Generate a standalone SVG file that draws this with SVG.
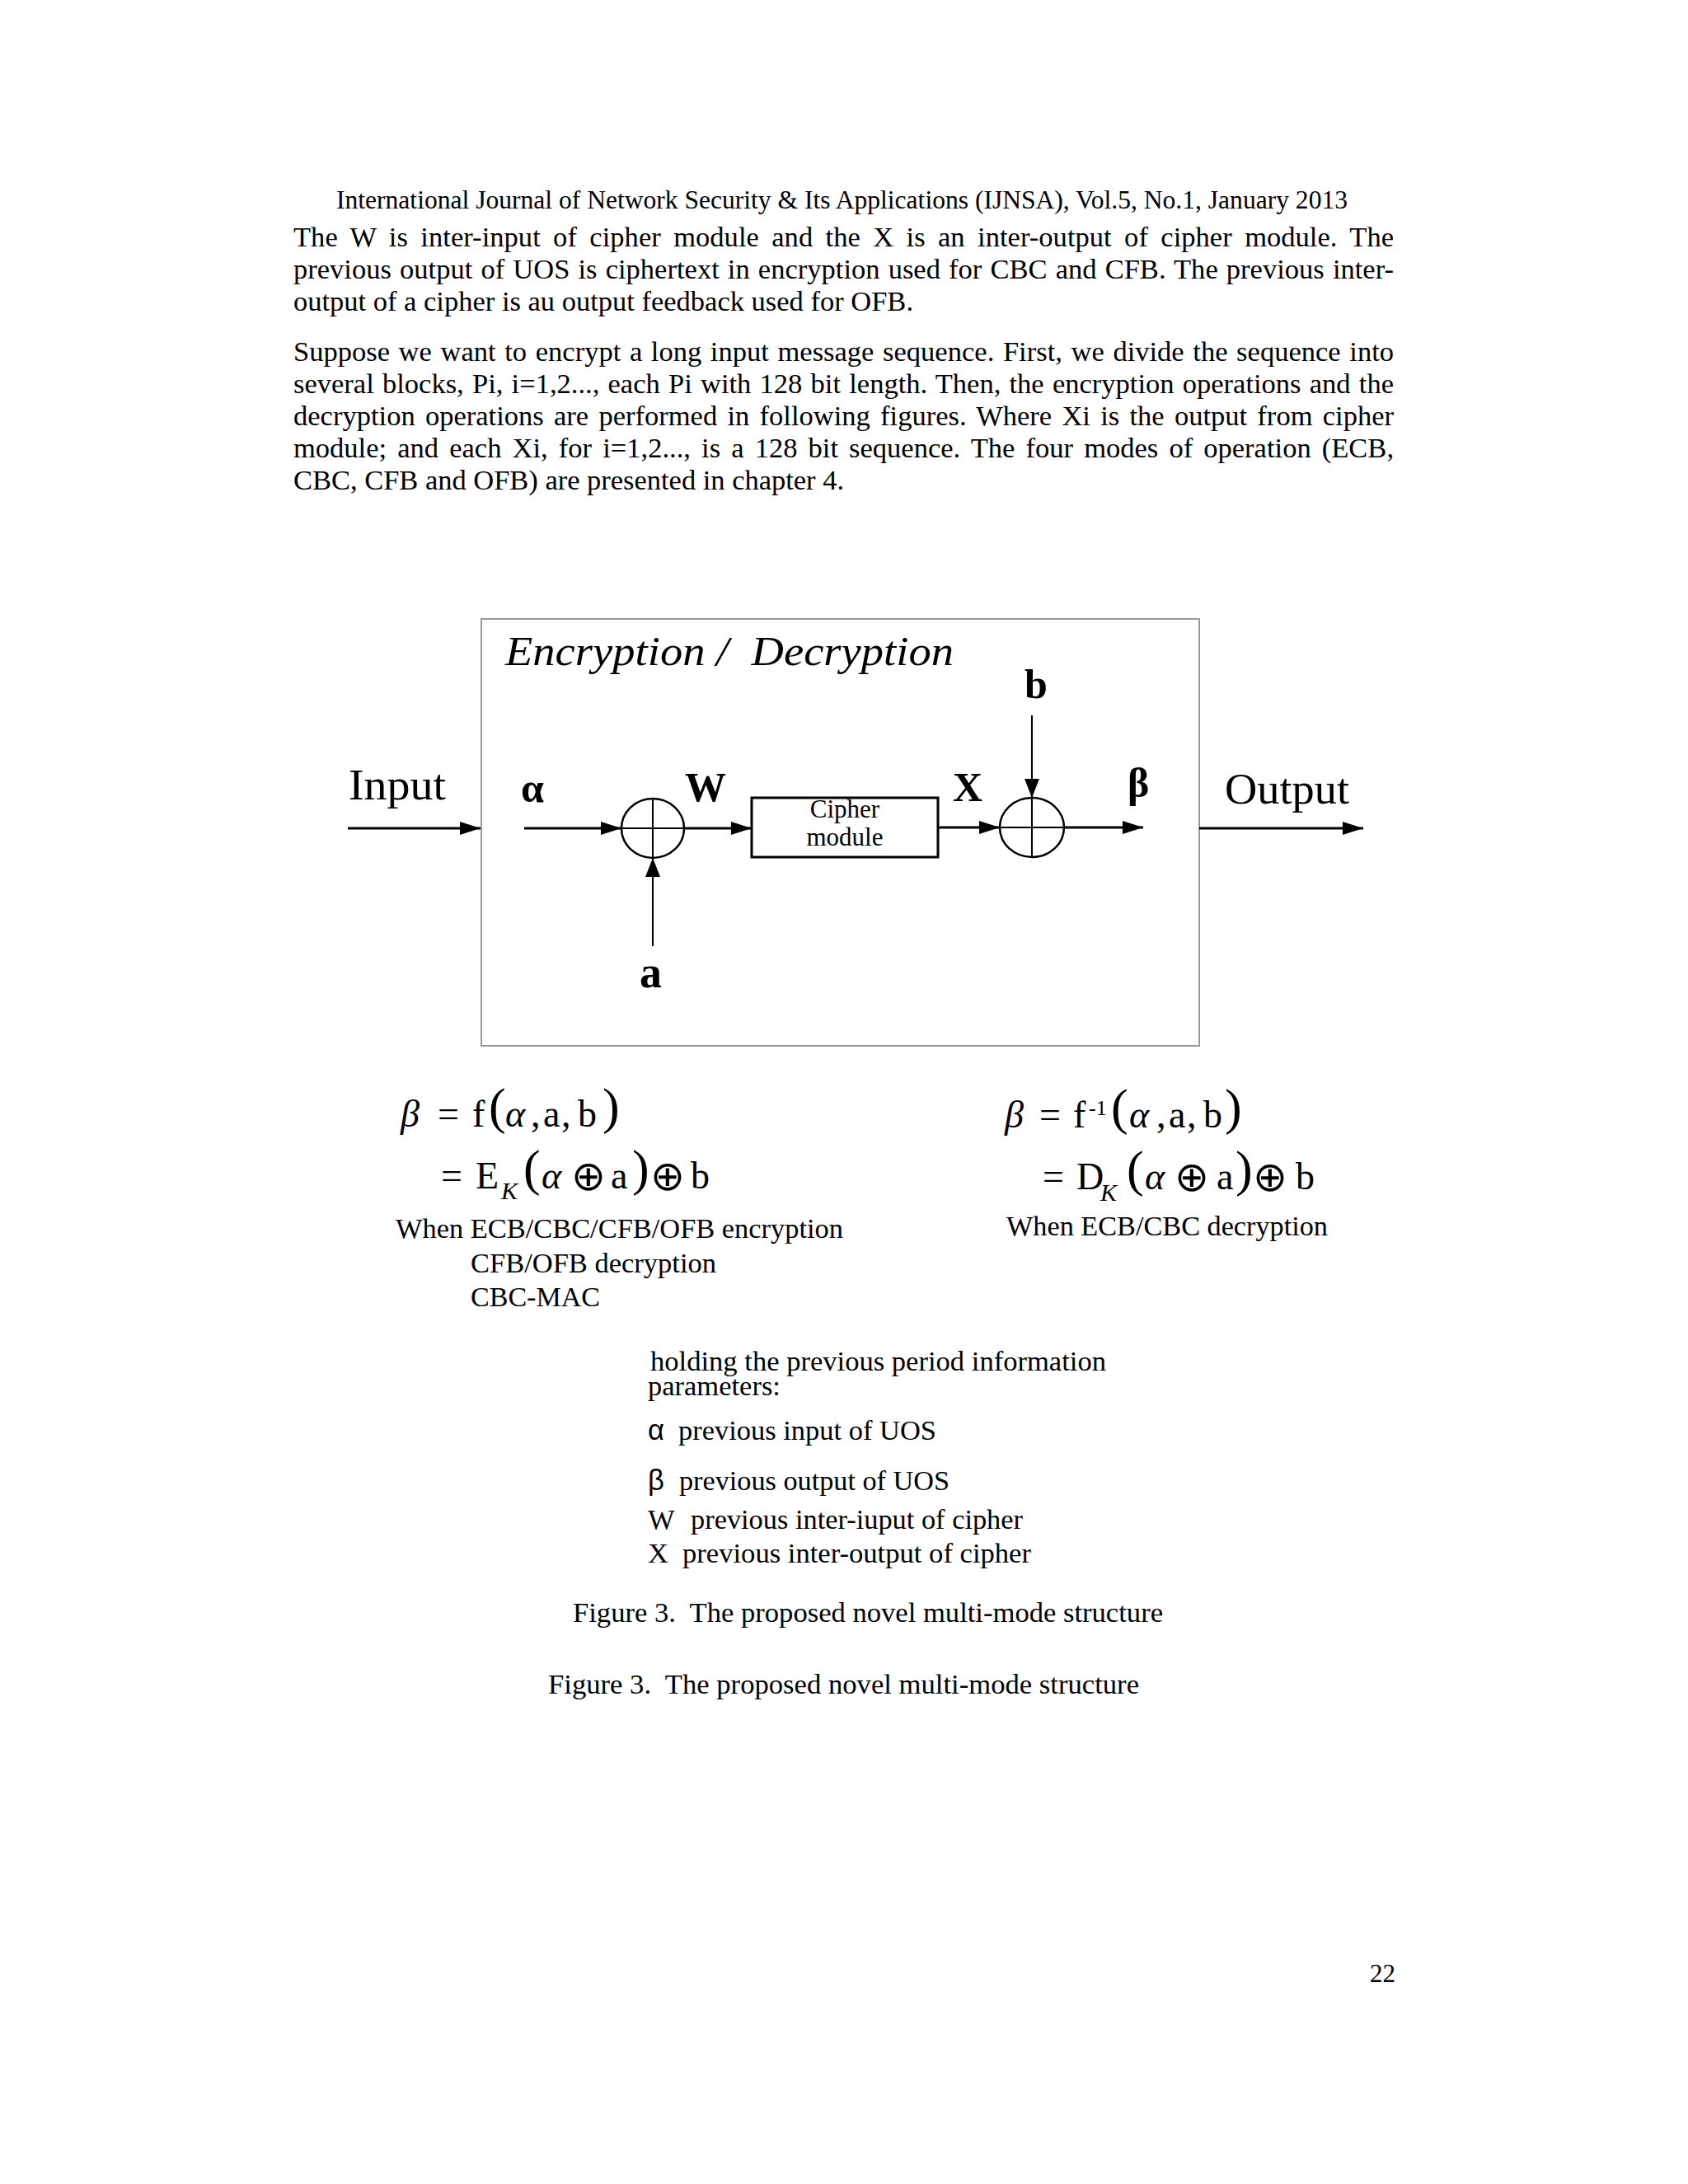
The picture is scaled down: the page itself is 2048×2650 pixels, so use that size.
<svg xmlns="http://www.w3.org/2000/svg" width="2048" height="2650" viewBox="0 0 2048 2650">
<style>
text{font-family:"Liberation Serif","Times New Roman",serif;fill:#000}
.body{font-size:34.5px}
.hdr{font-size:31px}
.lbl{font-size:52px}
.bold{font-size:50px;font-weight:bold}
.title{font-size:50px;font-style:italic}
.small{font-size:31px}
.fm{font-size:46px}
.it{font-style:italic}
.par{font-size:62px}
.sub{font-size:30px;font-style:italic}
.sup{font-size:26px}
.ox{font-family:"DejaVu Sans",sans-serif;font-size:50px}
.sans{font-family:"Liberation Sans",Arial,sans-serif;font-size:34.5px}
.conn{stroke:#000;stroke-width:3;fill:none;marker-end:url(#ah)}
.thin{stroke:#000;stroke-width:2;fill:none;marker-end:url(#ah2)}
.xor{fill:none;stroke:#000;stroke-width:2.5}
</style>
<defs>
<marker id="ah" markerUnits="userSpaceOnUse" markerWidth="26" markerHeight="16" refX="25" refY="8" orient="auto">
<path d="M0,0 L25,8 L0,16 z" fill="#000"/>
</marker>
<marker id="ah2" markerUnits="userSpaceOnUse" markerWidth="24" markerHeight="18" refX="23" refY="9" orient="auto">
<path d="M0,0 L23,9 L0,18 z" fill="#000"/>
</marker>
</defs>
<rect width="2048" height="2650" fill="#fff"/>

<g id="page-text">
<text class="hdr" x="408" y="253" textLength="1227" lengthAdjust="spacingAndGlyphs">International Journal of Network Security &amp; Its Applications (IJNSA), Vol.5, No.1, January 2013</text>
<text class="body" x="356" y="299" word-spacing="6.7" textLength="1335" lengthAdjust="spacing">The W is inter-input of cipher module and the X is an inter-output of cipher module. The</text>
<text class="body" x="356" y="338" word-spacing="1.5" textLength="1335" lengthAdjust="spacing">previous output of UOS is ciphertext in encryption used for CBC and CFB. The previous inter-</text>
<text class="body" x="356" y="377" textLength="752" lengthAdjust="spacing">output of a cipher is au output feedback used for OFB.</text>
<text class="body" x="356" y="438" word-spacing="2" textLength="1335" lengthAdjust="spacing">Suppose we want to encrypt a long input message sequence. First, we divide the sequence into</text>
<text class="body" x="356" y="477" word-spacing="1.6" textLength="1335" lengthAdjust="spacing">several blocks, Pi, i=1,2..., each Pi with 128 bit length. Then, the encryption operations and the</text>
<text class="body" x="356" y="516" word-spacing="3.6" textLength="1335" lengthAdjust="spacing">decryption operations are performed in following figures. Where Xi is the output from cipher</text>
<text class="body" x="356" y="555" word-spacing="4.5" textLength="1335" lengthAdjust="spacing">module; and each Xi, for i=1,2..., is a 128 bit sequence. The four modes of operation (ECB,</text>
<text class="body" x="356" y="594" textLength="668" lengthAdjust="spacing">CBC, CFB and OFB) are presented in chapter 4.</text>
</g>

<g id="frame">
<rect x="584" y="751" width="871" height="518" fill="none" stroke="#9a9a9a" stroke-width="2"/>
<text class="title" x="613" y="807" textLength="544" lengthAdjust="spacingAndGlyphs">Encryption /&#160; Decryption</text>
</g>

<g id="input-label"><text class="lbl" x="423" y="970" textLength="118" lengthAdjust="spacingAndGlyphs">Input</text></g>
<g id="output-label"><text class="lbl" x="1486" y="975" textLength="151" lengthAdjust="spacingAndGlyphs">Output</text></g>
<g id="alpha-label"><text class="bold" x="632" y="973">α</text></g>
<g id="W-label"><text class="bold" x="831" y="972">W</text></g>
<g id="X-label"><text class="bold" x="1156" y="972">X</text></g>
<g id="beta-label"><text class="bold" x="1368" y="967">β</text></g>
<g id="b-label"><text class="bold" x="1243" y="847">b</text></g>
<g id="a-label"><text class="bold" x="776" y="1198" style="font-size:54px">a</text></g>

<g id="xor1">
<ellipse class="xor" cx="792" cy="1005" rx="38" ry="36"/>
<line x1="792" y1="969" x2="792" y2="1041" stroke="#000" stroke-width="2"/>
<line x1="754" y1="1005" x2="830" y2="1005" stroke="#000" stroke-width="2"/>
</g>
<g id="xor2">
<ellipse class="xor" cx="1252" cy="1004" rx="39" ry="36"/>
<line x1="1252" y1="968" x2="1252" y2="1040" stroke="#000" stroke-width="2"/>
<line x1="1213" y1="1004" x2="1291" y2="1004" stroke="#000" stroke-width="2"/>
</g>
<g id="cipher">
<rect x="912" y="968" width="226" height="72" fill="#fff" stroke="#000" stroke-width="3"/>
<text class="small" x="1025" y="992" text-anchor="middle">Cipher</text>
<text class="small" x="1025" y="1026" text-anchor="middle">module</text>
</g>

<g id="connectors">
<line class="conn" x1="422" y1="1005" x2="583" y2="1005"/>
<line class="conn" x1="636" y1="1005" x2="754" y2="1005"/>
<line class="conn" x1="831" y1="1005" x2="912" y2="1005"/>
<line class="conn" x1="1138" y1="1004" x2="1213" y2="1004"/>
<line class="conn" x1="1291" y1="1004" x2="1387" y2="1004"/>
<line class="conn" x1="1455" y1="1005" x2="1654" y2="1005"/>
<line class="thin" x1="1252" y1="868" x2="1252" y2="968"/>
<line class="thin" x1="792" y1="1148" x2="792" y2="1041"/>
</g>

<g id="formula-left">
<text class="fm it" x="486" y="1367">β</text>
<text class="fm" x="531" y="1367">=</text>
<text class="fm" x="573" y="1367">f</text>
<text class="par" x="593" y="1363">(</text>
<text class="fm it" x="613" y="1367">α</text>
<text class="fm" x="644" y="1367">,</text>
<text class="fm" x="659" y="1367">a</text>
<text class="fm" x="681" y="1367">,</text>
<text class="fm" x="701" y="1367">b</text>
<text class="par" x="731" y="1363">)</text>
<text class="fm" x="535" y="1442">=</text>
<text class="fm" x="577" y="1442">E</text>
<text class="sub" x="608" y="1455">K</text>
<text class="par" x="635" y="1438">(</text>
<text class="fm it" x="657" y="1442">α</text>
<text class="ox" x="693" y="1444">⊕</text>
<text class="fm" x="741" y="1442">a</text>
<text class="par" x="767" y="1438">)</text>
<text class="ox" x="789" y="1444">⊕</text>
<text class="fm" x="838" y="1442">b</text>
<text class="body" x="480" y="1502" textLength="543" lengthAdjust="spacingAndGlyphs">When ECB/CBC/CFB/OFB encryption</text>
<text class="body" x="571" y="1544" textLength="298" lengthAdjust="spacingAndGlyphs">CFB/OFB decryption</text>
<text class="body" x="571" y="1585" textLength="157" lengthAdjust="spacingAndGlyphs">CBC-MAC</text>
</g>

<g id="formula-right">
<text class="fm it" x="1219" y="1368">β</text>
<text class="fm" x="1261" y="1368">=</text>
<text class="fm" x="1302" y="1368">f</text>
<text class="sup" x="1321" y="1353">-1</text>
<text class="par" x="1348" y="1364">(</text>
<text class="fm it" x="1370" y="1368">α</text>
<text class="fm" x="1403" y="1368">,</text>
<text class="fm" x="1418" y="1368">a</text>
<text class="fm" x="1440" y="1368">,</text>
<text class="fm" x="1460" y="1368">b</text>
<text class="par" x="1486" y="1364">)</text>
<text class="fm" x="1265" y="1443">=</text>
<text class="fm" x="1306" y="1443">D</text>
<text class="sub" x="1335" y="1457">K</text>
<text class="par" x="1367" y="1439">(</text>
<text class="fm it" x="1389" y="1443">α</text>
<text class="ox" x="1425" y="1445">⊕</text>
<text class="fm" x="1476" y="1443">a</text>
<text class="par" x="1499" y="1439">)</text>
<text class="ox" x="1520" y="1445">⊕</text>
<text class="fm" x="1572" y="1443">b</text>
<text class="body" x="1221" y="1499" textLength="390" lengthAdjust="spacingAndGlyphs">When ECB/CBC decryption</text>
</g>

<g id="legend">
<text class="body" x="789" y="1663" textLength="553" lengthAdjust="spacingAndGlyphs">holding the previous period information</text>
<text class="body" x="786" y="1693">parameters:</text>
<text class="sans" x="786" y="1747">α</text>
<text class="body" x="823" y="1747" textLength="313" lengthAdjust="spacingAndGlyphs">previous input of UOS</text>
<text class="sans" x="786" y="1808">β</text>
<text class="body" x="824" y="1808" textLength="328" lengthAdjust="spacingAndGlyphs">previous output of UOS</text>
<text class="body" x="786" y="1855">W</text>
<text class="body" x="838" y="1855" textLength="403" lengthAdjust="spacingAndGlyphs">previous inter-iuput of cipher</text>
<text class="body" x="786" y="1896">X</text>
<text class="body" x="828" y="1896" textLength="423" lengthAdjust="spacingAndGlyphs">previous inter-output of cipher</text>
</g>

<g id="captions">
<text class="body" x="695" y="1968" textLength="716" lengthAdjust="spacingAndGlyphs">Figure 3.&#160; The proposed novel multi-mode structure</text>
<text class="body" x="665" y="2055" textLength="717" lengthAdjust="spacingAndGlyphs">Figure 3.&#160; The proposed novel multi-mode structure</text>
<text class="hdr" x="1662" y="2405">22</text>
</g>
</svg>
